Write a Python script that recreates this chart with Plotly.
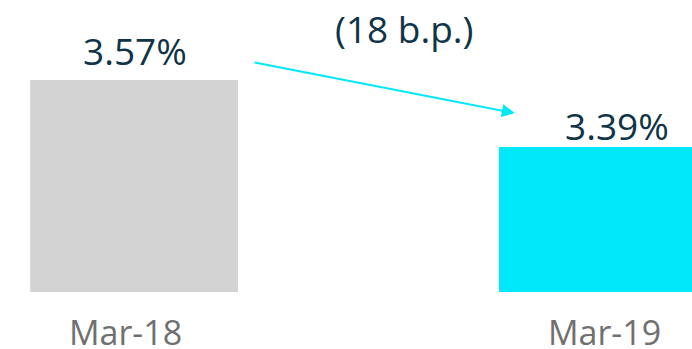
import plotly.graph_objects as go

# data
periods = ["Mar-18", "Mar-19"]
rates = [3.57, 3.39]
bar_colors = ["#d3d3d3", "#00e8fa"]
change_label = "(18 b.p.)"
base_rate = 3.0

fig = go.Figure()

# bars start at 3.0 so the drop looks bigger, like the slide
fig.add_trace(go.Bar(
    x=periods, y=[r - base_rate for r in rates], base=base_rate,
    marker=dict(color=bar_colors, line=dict(width=0)),
    width=0.443, showlegend=False, hoverinfo="skip",
))

# value labels above the bars
label_shift = [(1, 29), (14, 21)]
for (p, r), (dx, dy) in zip(zip(periods, rates), label_shift):
    fig.add_annotation(
        x=p, y=r, text=f"{r:.2f}%", showarrow=False,
        yanchor="middle", yshift=dy, xshift=dx,
        font=dict(family="Open Sans", size=37, color="#0f3448"),
    )

# category labels under the bars
for p, dx in zip(periods, [-9, 2]):
    fig.add_annotation(
        x=p, y=0, xref="x", yref="paper", text=p, showarrow=False,
        yanchor="middle", yshift=-40, xshift=dx,
        font=dict(family="Open Sans", size=34, color="#707070"),
    )

# change arrow
fig.add_annotation(
    x=0.812, y=3.481, ax=0.254, ay=3.618,
    xref="x", yref="y", axref="x", ayref="y",
    text="", showarrow=True, arrowhead=2, arrowsize=1.3,
    arrowwidth=2, arrowcolor="#00e8fa",
)
fig.add_annotation(
    x=0.576, y=3.708, xref="x", yref="y", text=change_label, showarrow=False,
    yanchor="middle",
    font=dict(family="Open Sans", size=37, color="#0f3448"),
)

fig.update_layout(
    width=692, height=349,
    margin=dict(l=0, r=0, t=0, b=57),
    plot_bgcolor="white", paper_bgcolor="white",
    xaxis=dict(
        type="category", range=[-0.286, 1.19],
        showgrid=False, showline=False, zeroline=False, ticks="",
        showticklabels=False,
    ),
    yaxis=dict(range=[base_rate, 3.785], visible=False),
)

# drop the default page margin so the figure fills the window
fig.write_html(
    "out.html",
    config={"displayModeBar": False},
    post_script="document.body.style.margin='0px';"
                "document.documentElement.style.overflow='hidden';",
)
